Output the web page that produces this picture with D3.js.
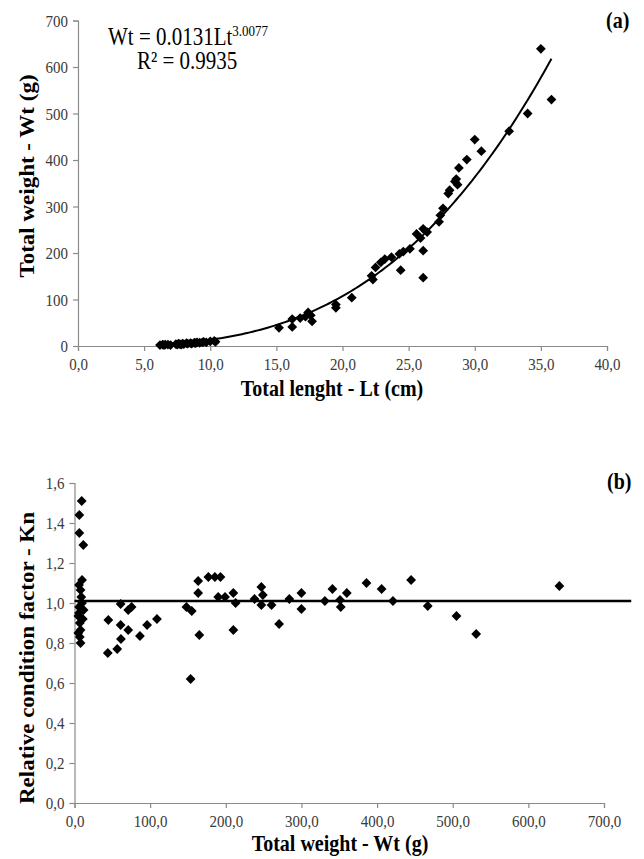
<!DOCTYPE html>
<html>
<head>
<meta charset="utf-8">
<script src="https://cdn.jsdelivr.net/npm/d3@7"></script>
<style>
  body { margin: 0; background: #fff; }
  .tick text { fill: #3a3a3a; font-size: 15px; }
  .domain, .tick line { stroke: #8a8a8a; stroke-width: 1.2; }
  .title { font-weight: bold; font-size: 20px; fill: #000; }
</style>
</head>
<body>
<div id="chart"></div>
<script>
// --- Data (a): total length (cm) vs total weight (g) ---
const lengthCm = [6.2, 6.4, 6.5, 6.6, 6.8, 7.0, 7.4, 7.5, 7.6, 7.7, 7.8, 7.9, 8.0, 8.2, 8.3, 8.5, 8.6, 8.8, 8.9, 9.0,
  9.2, 9.4, 9.5, 9.7, 10.0, 10.3, 10.4,
  15.2, 16.2, 16.2, 16.8, 17.2, 17.4, 17.7, 17.6,
  19.5, 19.5, 20.7, 22.2, 22.3, 22.5, 22.9, 23.2, 23.7, 24.4, 24.3, 24.6, 25.1, 25.6, 26.1, 25.9, 26.1, 26.1, 26.4,
  27.3, 27.4, 27.6, 28.0, 28.1, 28.5, 28.7, 28.6, 28.8, 29.4, 30.0, 30.5, 32.6, 34.0, 35.0, 35.8];
const weightG = [2, 3, 2, 3, 3, 2, 4, 3, 5, 4, 3, 5, 4, 6, 5, 6, 5, 7, 6, 8,
  7, 8, 9, 8, 10, 11, 9,
  39, 41, 58, 60, 63, 72, 53, 66,
  82, 89, 104, 151, 143, 169, 180, 187, 191, 163, 198, 203, 209, 241, 252, 232, 205, 147, 245,
  267, 281, 296, 328, 335, 354, 347, 359, 383, 401, 444, 419, 462, 500, 639, 530];
const fitA = 0.0131, fitB = 3.0077;
const fitRange = [6.2, 35.8];
const xTicksA = [0, 5, 10, 15, 20, 25, 30, 35, 40];
const yTicksA = [0, 100, 200, 300, 400, 500, 600, 700];

// --- Data (b): total weight (g) vs relative condition factor Kn ---
const knWeight = [9.5, 6.4, 6.4, 11.7, 10, 6, 8, 9, 10, 6, 12, 5, 11, 7, 8, 5, 7, 8, 6,
  44.7, 44, 56.5, 61.4, 61, 61, 71, 71, 75.5, 86.5, 96, 109,
  148, 155, 153.5, 163.5, 163.5, 165,
  177, 185.6, 193, 190, 199, 210, 210, 213, 238, 247, 249, 247, 260.5, 270.5, 284, 300, 300,
  331, 341, 351, 352, 360, 386, 406, 421, 445, 467, 505, 531, 641];
const knValue = [1.51, 1.44, 1.35, 1.29, 1.115, 1.09, 1.065, 1.03, 1.0, 0.98, 0.965, 0.935, 0.92, 0.90, 0.865, 0.85, 0.83, 0.80, 0.95,
  0.915, 0.75, 0.77, 0.82, 0.89, 0.995, 0.865, 0.965, 0.98, 0.835, 0.89, 0.92,
  0.98, 0.96, 0.62, 1.11, 1.05, 0.84,
  1.13, 1.13, 1.13, 1.03, 1.03, 1.05, 0.865, 1.0, 1.02, 1.08, 1.04, 0.99, 0.99, 0.895, 1.02, 1.05, 0.97,
  1.01, 1.07, 1.015, 0.98, 1.05, 1.10, 1.07, 1.01, 1.115, 0.985, 0.935, 0.845, 1.085];
const knRef = 1.01;
const knRefRange = [0, 736];
const xTicksB = [0, 100, 200, 300, 400, 500, 600, 700];
const yTicksB = [0, 0.2, 0.4, 0.6, 0.8, 1.0, 1.2, 1.4, 1.6];

// --- Layout ---
const W = 644, H = 859;
const stretch = 1.15; // source figure is a bit taller than wide, text included
const svg = d3.select('#chart').append('svg').attr('width', W).attr('height', H)
  .attr('font-family', 'Liberation Serif');
svg.append('rect').attr('width', W).attr('height', H).attr('fill', '#fff');

const comma1 = d => d.toFixed(1).replace('.', ',');
const diamond = d3.symbol(d3.symbolSquare, 48);

function axisG(axis, tx, ty) {
  const g = svg.append('g').attr('transform', `translate(${tx},${ty})`).call(axis).attr('font-family', null);
  g.selectAll('.tick text').attr('transform', `scale(1,${stretch})`);
  return g;
}

// ===== Chart (a) =====
const xA = d3.scaleLinear().domain([0, 40]).range([78, 607]);
const yA = d3.scaleLinear().domain([0, 700]).range([346, 20.5]);

axisG(d3.axisBottom(xA).tickValues(xTicksA).tickFormat(comma1).tickSizeOuter(0).tickSize(5).tickPadding(5), 0, yA(0));
axisG(d3.axisLeft(yA).tickValues(yTicksA).tickFormat(d3.format('d')).tickSizeOuter(0).tickSize(5).tickPadding(5), xA(0), 0);

// power fit curve
const curvePts = d3.range(fitRange[0], fitRange[1] + 0.001, 0.2).map(l => [l, fitA * Math.pow(l, fitB)]);
svg.append('path')
  .attr('d', d3.line().x(d => xA(d[0])).y(d => yA(d[1]))(curvePts))
  .attr('fill', 'none').attr('stroke', '#000').attr('stroke-width', 2);

svg.append('g').selectAll('path')
  .data(lengthCm.map((l, i) => [l, weightG[i]]))
  .join('path')
  .attr('d', diamond)
  .attr('transform', d => `translate(${xA(d[0])},${yA(d[1])}) rotate(45)`)
  .attr('fill', '#000');

const eq = svg.append('text').attr('transform', `translate(108,45) scale(1,${stretch})`).attr('font-size', 21);
eq.append('tspan').text('Wt = 0.0131Lt');
eq.append('tspan').attr('font-size', 13).attr('dy', -8).text('3.0077');
svg.append('text').attr('transform', `translate(137,69) scale(1,${stretch})`).attr('font-size', 21).text('R² = 0.9935');

svg.append('text').attr('class', 'title').attr('transform', `translate(606,28) scale(1,${stretch})`).text('(a)');
svg.append('text').attr('class', 'title').attr('text-anchor', 'middle')
  .attr('transform', `translate(332,396) scale(1,${stretch})`).text('Total lenght - Lt (cm)');
svg.append('text').attr('class', 'title').attr('text-anchor', 'middle')
  .attr('transform', `translate(34,176) rotate(-90) scale(${stretch},1)`).text('Total weight - Wt (g)');

// ===== Chart (b) =====
const xB = d3.scaleLinear().domain([0, 700]).range([74.5, 604]);
const yB = d3.scaleLinear().domain([0, 1.6]).range([803, 483]);

axisG(d3.axisBottom(xB).tickValues(xTicksB).tickFormat(comma1).tickSizeOuter(0).tickSize(5).tickPadding(5), 0, yB(0));
axisG(d3.axisLeft(yB).tickValues(yTicksB).tickFormat(comma1).tickSizeOuter(0).tickSize(5).tickPadding(5), xB(0), 0);

svg.append('line')
  .attr('x1', xB(knRefRange[0])).attr('x2', xB(knRefRange[1]))
  .attr('y1', yB(knRef)).attr('y2', yB(knRef))
  .attr('stroke', '#000').attr('stroke-width', 2.5);

svg.append('g').selectAll('path')
  .data(knWeight.map((w, i) => [w, knValue[i]]))
  .join('path')
  .attr('d', diamond)
  .attr('transform', d => `translate(${xB(d[0])},${yB(d[1])}) rotate(45)`)
  .attr('fill', '#000');

svg.append('text').attr('class', 'title').attr('transform', `translate(607,489) scale(1,${stretch})`).text('(b)');
svg.append('text').attr('class', 'title').attr('text-anchor', 'middle')
  .attr('transform', `translate(340,851) scale(1,${stretch})`).text('Total weight - Wt (g)');
svg.append('text').attr('class', 'title').attr('text-anchor', 'middle')
  .attr('transform', `translate(34,658) rotate(-90) scale(${stretch},1)`).text('Relative condition factor - Kn');
</script>
</body>
</html>
